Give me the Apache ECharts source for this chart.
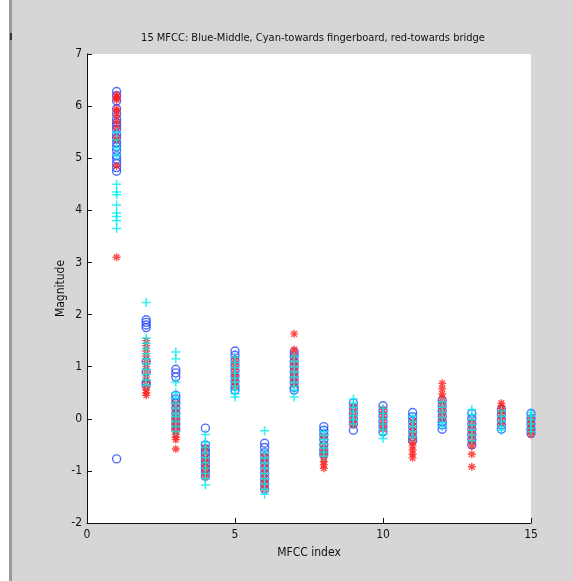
<!DOCTYPE html>
<html>
<head>
<meta charset="utf-8">
<script src="https://cdn.jsdelivr.net/npm/echarts@6/dist/echarts.min.js"></script>
<style>
  html, body { margin: 0; padding: 0; background: #d6d6d6; }
  #chart { width: 573px; height: 581px; }
</style>
</head>
<body>
<div id="chart"></div>
<script>
// MFCC values per index 1..15, one list per index
const blueMiddle = [
  [6.28, 6.2, 6.1, 5.95, 5.85, 5.75, 5.68, 5.62, 5.55, 5.45, 5.38, 5.3, 5.22, 5.15, 5.05, 4.98, 4.9, 4.82, 4.75, -0.77],
  [1.9, 1.85, 1.8, 1.75, 1.1, 0.9, 0.7, 0.65],
  [0.95, 0.88, 0.8, 0.45, 0.38, 0.3, 0.2, 0.1, 0.0, -0.1, -0.2],
  [-0.18, -0.5, -0.58, -0.65, -0.72, -0.8, -0.88, -0.95, -1.02, -1.1],
  [1.3, 1.22, 1.12, 1.02, 0.92, 0.82, 0.72, 0.62, 0.55],
  [-0.47, -0.55, -0.65, -0.75, -0.85, -0.95, -1.05, -1.15, -1.25, -1.35],
  [1.28, 1.2, 1.1, 1.0, 0.9, 0.8, 0.7, 0.6, 0.55],
  [-0.15, -0.22, -0.3, -0.4, -0.5, -0.6, -0.68],
  [0.3, 0.2, 0.1, 0.0, -0.1, -0.22],
  [0.25, 0.15, 0.05, -0.05, -0.15, -0.25],
  [0.12, 0.04, -0.05, -0.15, -0.25, -0.35, -0.42],
  [0.35, 0.25, 0.15, 0.05, -0.05, -0.12, -0.2],
  [0.1, 0.0, -0.1, -0.2, -0.3, -0.4, -0.5],
  [0.18, 0.08, -0.02, -0.12, -0.2],
  [0.1, 0.0, -0.1, -0.2, -0.28]
]
const cyanFingerboard = [
  [5.5, 5.35, 5.2, 5.05, 4.5, 4.35, 4.3, 4.1, 3.95, 3.88, 3.8, 3.65],
  [2.23, 1.55, 1.45, 1.35, 1.25, 1.15, 1.05, 0.95, 0.85, 0.75, 0.65],
  [1.28, 1.15, 0.7, 0.5, 0.4, 0.3, 0.2, 0.1, 0.05, -0.05, -0.15, -0.25],
  [-0.3, -0.45, -0.55, -0.65, -0.75, -0.85, -0.95, -1.05, -1.15, -1.27],
  [1.18, 1.08, 0.98, 0.88, 0.78, 0.7, 0.62, 0.55, 0.48, 0.42],
  [-0.23, -0.65, -0.75, -0.85, -0.95, -1.05, -1.15, -1.25, -1.35, -1.45],
  [1.2, 1.1, 1.0, 0.9, 0.8, 0.7, 0.62, 0.55, 0.42],
  [-0.25, -0.32, -0.4, -0.48, -0.56, -0.64, -0.72],
  [0.38, 0.3, 0.22, 0.14, 0.06, -0.02, -0.1],
  [0.2, 0.1, 0.0, -0.1, -0.2, -0.3, -0.38],
  [0.05, -0.05, -0.15, -0.25, -0.35],
  [0.32, 0.22, 0.12, 0.02, -0.08, -0.15],
  [0.18, 0.08, -0.02, -0.12, -0.22, -0.32, -0.42],
  [0.15, 0.05, -0.05, -0.15, -0.22],
  [0.12, 0.05, -0.02, -0.1, -0.18, -0.25]
]
const redBridge = [
  [6.22, 6.18, 6.15, 6.12, 5.95, 5.9, 5.82, 5.7, 5.58, 5.4, 5.35, 4.85, 3.1],
  [1.5, 1.4, 1.3, 1.2, 1.1, 1.0, 0.9, 0.8, 0.7, 0.6, 0.55, 0.5, 0.45],
  [0.3, 0.2, 0.1, 0.0, -0.05, -0.1, -0.15, -0.2, -0.25, -0.3, -0.35, -0.4, -0.58],
  [-0.55, -0.65, -0.75, -0.82, -0.9, -0.97, -1.05, -1.12],
  [1.15, 1.05, 0.95, 0.85, 0.78, 0.7, 0.62],
  [-0.7, -0.8, -0.9, -1.0, -1.1, -1.2, -1.28, -1.35],
  [1.63, 1.33, 1.25, 1.15, 1.05, 0.95, 0.85, 0.75, 0.65],
  [-0.35, -0.5, -0.6, -0.68, -0.75, -0.82, -0.88, -0.95],
  [0.25, 0.15, 0.05, -0.05, -0.12],
  [0.18, 0.08, -0.02, -0.12, -0.2],
  [-0.05, -0.15, -0.25, -0.35, -0.45, -0.52, -0.6, -0.68, -0.75],
  [0.68, 0.58, 0.48, 0.4, 0.3, 0.2, 0.1, 0.0],
  [-0.05, -0.15, -0.25, -0.35, -0.45, -0.52, -0.68, -0.92],
  [0.3, 0.25, 0.2, 0.15, 0.1, 0.0, -0.1],
  [0.0, -0.08, -0.16, -0.24, -0.3]
]

const toPoints = (groups) => {
  const pts = []
  groups.forEach((vals, i) => {
    vals.forEach(v => pts.push([i + 1, v]))
  })
  return pts
}

const FONT = "'Liberation Sans Narrow', 'DejaVu Sans Condensed', 'Liberation Sans', sans-serif"
const plusPath = 'path://M5,0L5,10M0,5L10,5'
const starPath = 'path://M5,0L5,10M0,5L10,5M1.5,1.5L8.5,8.5M8.5,1.5L1.5,8.5'

const chart = echarts.init(document.getElementById('chart'))

const axisCommon = {
  type: 'value',
  nameLocation: 'middle',
  nameMoveOverlap: false,
  nameTextStyle: { color: '#111', fontSize: 12, fontFamily: FONT },
  axisLine: { show: true, onZero: false, lineStyle: { color: '#111', width: 1 } },
  axisTick: { show: true, inside: true, length: 5, lineStyle: { color: '#111' } },
  axisLabel: { color: '#111', fontSize: 12, fontFamily: FONT },
  splitLine: { show: false }
}

chart.setOption({
  backgroundColor: '#d6d6d6',
  animation: false,
  title: {
    text: '15 MFCC: Blue-Middle, Cyan-towards fingerboard, red-towards bridge',
    left: 308,
    textAlign: 'center',
    top: 28,
    textStyle: { color: '#111', fontSize: 11, fontWeight: 'normal', fontFamily: FONT }
  },
  graphic: [
    { type: 'rect', left: 0, top: 0, shape: { width: 9, height: 581 }, style: { fill: '#ffffff' } },
    { type: 'rect', left: 9, top: 0, shape: { width: 3, height: 581 }, style: { fill: '#9a9a9a' } },
    { type: 'rect', left: 10, top: 33, shape: { width: 2, height: 7 }, style: { fill: '#333' } }
  ],
  grid: {
    left: 87,
    right: 42,
    top: 54,
    bottom: 58,
    show: true,
    backgroundColor: '#ffffff',
    borderWidth: 0
  },
  xAxis: {
    ...axisCommon,
    name: 'MFCC index',
    nameGap: 24,
    min: 0,
    max: 15,
    interval: 5,
    axisLabel: { ...axisCommon.axisLabel, margin: 6 }
  },
  yAxis: {
    ...axisCommon,
    name: 'Magnitude',
    nameGap: 20,
    min: -2,
    max: 7,
    interval: 1,
    axisLabel: { ...axisCommon.axisLabel, margin: 5 }
  },
  series: [
    {
      name: 'Blue-Middle',
      type: 'scatter',
      symbol: 'circle',
      symbolSize: 8,
      data: toPoints(blueMiddle),
      itemStyle: { color: 'rgba(0,0,0,0)', borderColor: '#2448ff', borderWidth: 1.4 }
    },
    {
      name: 'red-towards bridge',
      type: 'scatter',
      symbol: starPath,
      symbolSize: 8,
      data: toPoints(redBridge),
      itemStyle: { color: 'rgba(0,0,0,0)', borderColor: '#ff2222', borderWidth: 1.4 }
    },
    {
      name: 'Cyan-towards fingerboard',
      type: 'scatter',
      symbol: plusPath,
      symbolSize: 9,
      data: toPoints(cyanFingerboard),
      itemStyle: { color: 'rgba(0,0,0,0)', borderColor: '#00eeee', borderWidth: 1.5 }
    }
  ]
})
</script>
</body>
</html>
